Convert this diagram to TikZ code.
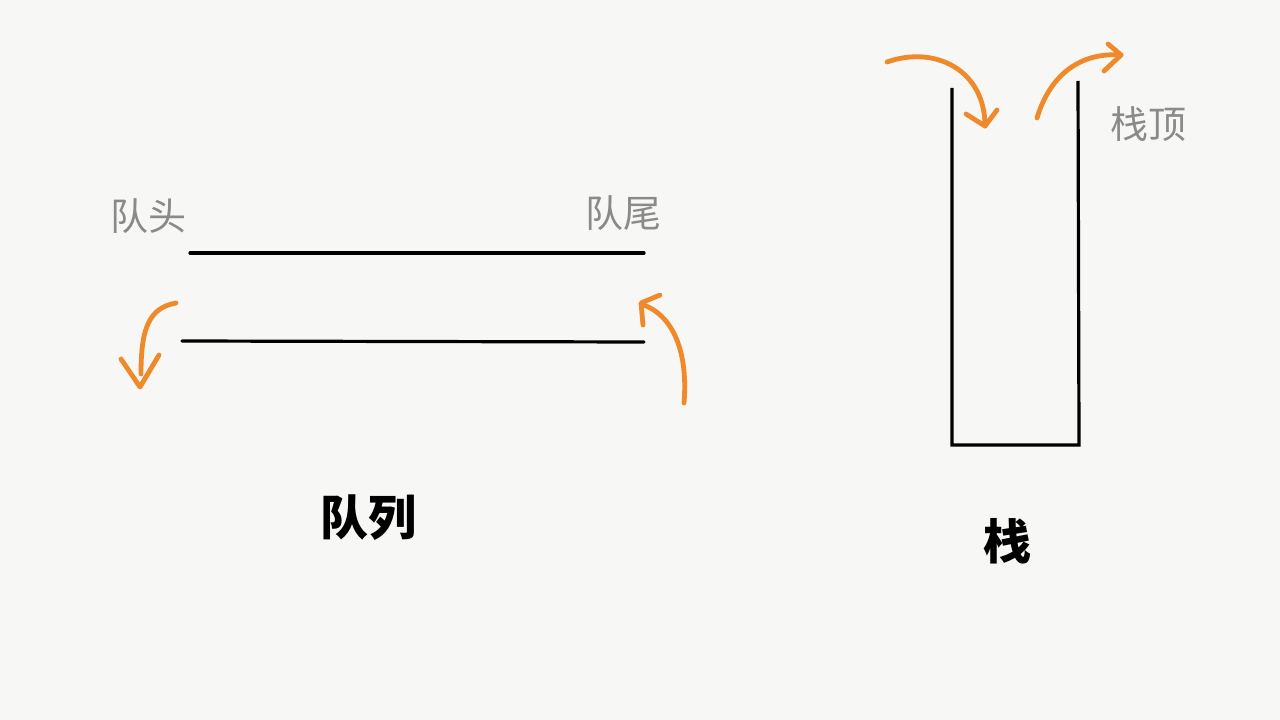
\documentclass[tikz,border=0pt]{standalone}
\usepackage{fontspec}
\newfontfamily\cjk{Noto Sans CJK SC}
\usetikzlibrary{arrows.meta}
\definecolor{bgc}{HTML}{F7F7F5}
\definecolor{orng}{HTML}{F0892A}
\definecolor{lbl}{HTML}{8A8A8A}
\tikzset{
  blk/.style={line width=2.4pt, black, line cap=round},
  orarrow/.style={line width=3.6pt, orng, line cap=round, line join=round},
  gray label/.style={font=\cjk\fontsize{28.5}{31}\selectfont, text=lbl, inner sep=0},
  title label/.style={font=\cjk\bfseries\fontsize{36}{40}\selectfont, text=black, inner sep=0},
}
\begin{document}
\begin{tikzpicture}[x=0.75pt,y=-0.75pt]
\fill[bgc] (0,0) rectangle (1280,720);
\useasboundingbox (0,0) rectangle (1280,720);
% queue
\coordinate (qt1) at (190,253); \coordinate (qt2) at (644,253);
\coordinate (qb1) at (182,341); \coordinate (qb2) at (644,342);
\draw[blk] (qt1) -- (qt2);
\draw[blk] (qb1) -- (qb2);
\node[gray label] (head) at (148,216) {队头};
\node[gray label] (tail) at (623,213) {队尾};
\node[title label] (queue) at (368,518) {队列};
% left out arrow
\coordinate (la0) at (176,303);
\coordinate (la1) at (140,387);
\draw[orarrow] (la0) .. controls (148,308) and (141,330) .. (141,374);
\draw[orarrow] (121,359) -- (la1) -- (159,355);
% right in arrow
\coordinate (ra0) at (684,403);
\coordinate (ra1) at (641,304);
\draw[orarrow] (ra0) .. controls (688,355) and (675,315) .. (ra1);
\draw[orarrow] (660,295) -- (641,303) -- (643,325);
% stack
\coordinate (s1) at (952,88); \coordinate (s2) at (952,445);
\coordinate (s3) at (1079,445); \coordinate (s4) at (1078,81);
\draw[blk, line join=miter, line cap=butt] (s1) -- (s2) -- (s3) -- (s4);
% stack in arrow
\coordinate (si0) at (887,62);
\coordinate (si1) at (985,126);
\draw[orarrow] (si0) .. controls (935,45) and (985,70) .. (si1);
\draw[orarrow] (966,114) -- (si1) -- (997,110);
% stack out arrow
\coordinate (so0) at (1037,118);
\coordinate (so1) at (1121,55);
\draw[orarrow] (so0) .. controls (1050,75) and (1080,52) .. (so1);
\draw[orarrow] (1108,44) -- (so1) -- (1104,71);
\node[gray label] (top) at (1148,124) {栈顶};
\node[title label] (stack) at (1007,541) {栈};
\end{tikzpicture}
\end{document}
